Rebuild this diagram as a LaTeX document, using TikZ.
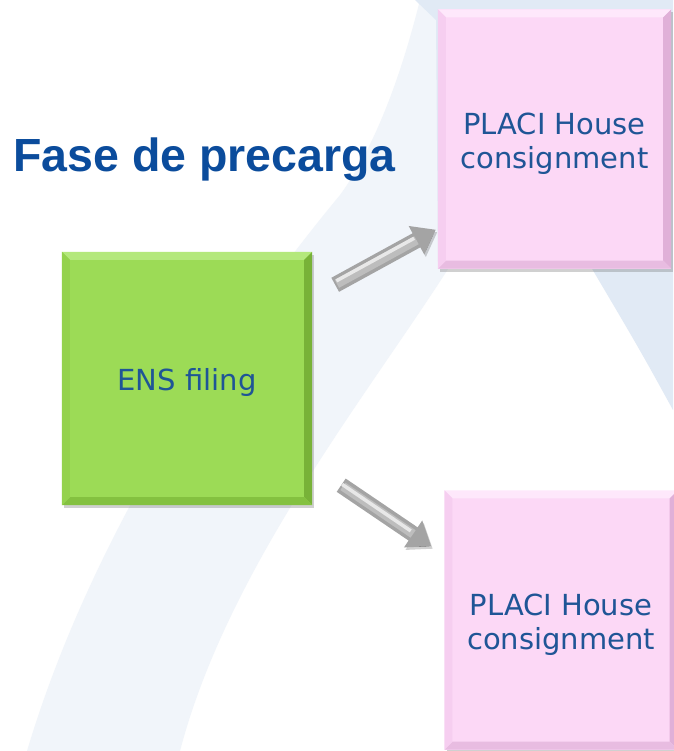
\documentclass[tikz,border=0pt]{standalone}
\usepackage{fontspec}
\setmainfont{DejaVu Sans}
\newfontfamily\titlefont{Liberation Sans}
\usetikzlibrary{calc,shadows,arrows.meta}
\definecolor{titleblue}{HTML}{0B4C9C}
\definecolor{textblue}{HTML}{1F5596}
\definecolor{greenfill}{HTML}{9CDB56}
\definecolor{greenlight}{HTML}{B4E87C}
\definecolor{greendark}{HTML}{84C140}
\definecolor{greenright}{HTML}{78B238}
\definecolor{greenleft}{HTML}{94D24D}
\definecolor{pinkfill}{HTML}{FCD8F6}
\definecolor{pinklight}{HTML}{FEE8FB}
\definecolor{pinkdark}{HTML}{E8BCE1}
\definecolor{pinkright}{HTML}{E0B0D8}
\definecolor{pinkleft}{HTML}{F6CEF0}
\definecolor{bandblue}{HTML}{F1F5FA}
\definecolor{swooshblue}{HTML}{E1EAF5}
\definecolor{arrowgray}{HTML}{A4A4A4}
\definecolor{arrowmid}{HTML}{BDBDBD}
\definecolor{arrowlight}{HTML}{E8E8E8}
\newcommand\bevelbox[6]{%
  \fill[#2] (#1.north west) -- (#1.north east) -- ($(#1.north east)+(-#6,#6)$) -- ($(#1.north west)+(#6,#6)$) -- cycle;
  \fill[#3] (#1.north east) -- (#1.south east) -- ($(#1.south east)+(-#6,-#6)$) -- ($(#1.north east)+(-#6,#6)$) -- cycle;
  \fill[#4] (#1.south east) -- (#1.south west) -- ($(#1.south west)+(#6,-#6)$) -- ($(#1.south east)+(-#6,-#6)$) -- cycle;
  \fill[#5] (#1.south west) -- (#1.north west) -- ($(#1.north west)+(#6,#6)$) -- ($(#1.south west)+(#6,-#6)$) -- cycle;
}
\newcommand\twolines[2]{\raisebox{-6pt}[\height][\depth]{\begin{tabular}{@{}c@{}}#1\\#2\end{tabular}}}
\newcommand\oneline[1]{\raisebox{-4pt}[\height][\depth]{#1}}
\tikzset{
  boxbase/.style={rectangle, inner sep=0pt, align=center, text=textblue,
    font=\fontsize{29}{34}\selectfont,
    drop shadow={shadow xshift=2pt, shadow yshift=-3pt, opacity=0.3, fill=black!60}},
  greenbox/.style={boxbase, fill=greenfill, minimum width=250pt, minimum height=253pt},
  pinkbox/.style={boxbase, fill=pinkfill, minimum width=233pt, minimum height=259pt},
  fatarrow/.style={line width=16pt, draw=arrowgray, -{Triangle[length=22pt, width=31pt]},
    preaction={draw=black, draw opacity=0.18, transform canvas={xshift=1.5pt, yshift=-2.5pt}},
    postaction={draw=arrowmid, line width=9pt, -, shorten >=22pt, shorten <=2pt},
    postaction={draw=arrowlight, line width=3.5pt, -, shorten >=23pt, shorten <=3pt,
      transform canvas={xshift=-1.5pt, yshift=2.5pt}}},
  titlestyle/.style={anchor=base west, inner sep=0pt, text=titleblue,
    font=\titlefont\bfseries\fontsize{46.5}{50}\selectfont}
}
\begin{document}
\begin{tikzpicture}[x=1pt,y=-1pt]
\useasboundingbox (0,0) rectangle (673,751);
\fill[white] (0,0) rectangle (673,751);
% background swooshes
\fill[bandblue] (27,751) .. controls (90,540) and (220,340) .. (340,195)
  .. controls (380,140) and (405,60) .. (420,0)
  -- (460,0) -- (460,250) .. controls (380,380) and (230,560) .. (180,751) -- cycle;
\fill[swooshblue] (415,0) -- (673,0) -- (673,410) .. controls (640,350) .. (588,262)
  -- (438,262) -- (436,20) -- cycle;
% title
\node[titlestyle] (title) at (13,172) {Fase de precarga};
% boxes
\node[greenbox] (g) at (187,378.5) {\oneline{ENS filing}};
\bevelbox{g}{greenlight}{greenright}{greendark}{greenleft}{8}
\node[pinkbox] (p1) at (554.5,139) {\twolines{PLACI House}{consignment}};
\bevelbox{p1}{pinklight}{pinkright}{pinkdark}{pinkleft}{8}
\node[pinkbox] (p2) at (561,620) {\twolines{PLACI House}{consignment}};
\bevelbox{p2}{pinklight}{pinkright}{pinkdark}{pinkleft}{8}
% arrows
\coordinate (a1s) at ($(g.north east)+(23,33)$);
\coordinate (a1e) at ($(p1.south west)+(-2,-39)$);
\coordinate (a2s) at ($(g.south east)+(29,-20)$);
\coordinate (a2e) at ($(p2.north west)+(-13,56)$);
\draw[fatarrow] (a1s) -- (a1e);
\draw[fatarrow] (a2s) -- (a2e);
\end{tikzpicture}
\end{document}
